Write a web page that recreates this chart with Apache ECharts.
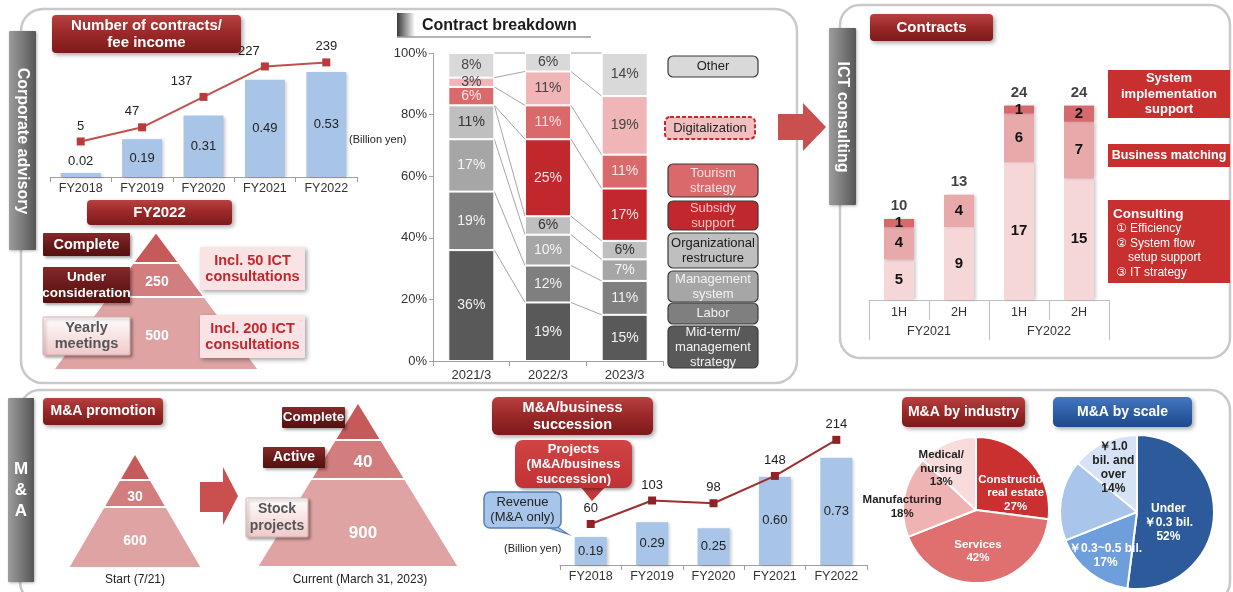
<!DOCTYPE html>
<html><head><meta charset="utf-8">
<script src="https://cdn.jsdelivr.net/npm/echarts@6/dist/echarts.min.js"></script>
<style>html,body{margin:0;padding:0;background:#fff}#c{width:1233px;height:592px}</style>
</head><body><div id="c"></div><script>
const FONT = '"Liberation Sans", Arial, "DejaVu Sans", sans-serif';

// ---------------- DATA ----------------
const feeYears = ['FY2018','FY2019','FY2020','FY2021','FY2022'];
const feeIncome = [0.02, 0.19, 0.31, 0.49, 0.53];
const feeContracts = [5, 47, 137, 227, 239];

const breakdownCats = ['2021/3','2022/3','2023/3'];
const bdMidterm = [36, 19, 15];
const bdLabor = [19, 12, 11];
const bdMgmt = [17, 10, 7];
const bdOrg = [11, 6, 6];
const bdSubsidy = [0, 25, 17];
const bdTourism = [6, 11, 11];
const bdDigital = [3, 11, 19];
const bdOther = [8, 6, 14];
const bdNames = ['Mid-term/management strategy','Labor','Management system','Organizational restructure','Subsidy support','Tourism strategy','Digitalization','Other'];

const ictHalves = ['1H','2H','1H','2H'];
const ictYears = ['FY2021','FY2022'];
const ictConsulting = [5, 9, 17, 15];
const ictMatching = [4, 4, 6, 7];
const ictSystem = [1, 0, 1, 2];

const maYears = ['FY2018','FY2019','FY2020','FY2021','FY2022'];
const maRevenue = [0.19, 0.29, 0.25, 0.60, 0.73];
const maProjects = [60, 103, 98, 148, 214];

const industryNames = ['Construction/\nreal estate','Services','Manufacturing','Medical/\nnursing'];
const industryShares = [27, 42, 18, 13];
const scaleNames = ['Under\n￥0.3 bil.','￥0.3~0.5 bil.','￥0.5~\n1.0 bil.','￥1.0\nbil. and\nover'];
const scaleShares = [52, 17, 17, 14];

const corpPyramidLabels = ['', '250', '500'];
const maStartLabels = ['', '30', '600'];
const maCurrentLabels = ['', '40', '900'];

// ---------------- STYLE HELPERS ----------------
function vgrad(a, b, c) {
  const stops = c ? [{offset:0,color:a},{offset:0.5,color:b},{offset:1,color:c}] : [{offset:0,color:a},{offset:1,color:b}];
  return {type:'linear', x:0, y:0, x2:0, y2:1, colorStops:stops};
}
function hgrad(a, b, c) {
  return {type:'linear', x:0, y:0, x2:1, y2:0, colorStops:[{offset:0,color:a},{offset:0.5,color:b},{offset:1,color:c}]};
}
const RED_T = () => vgrad('#b84040', '#9a2828', '#7c1a1a');
const MAROON = () => vgrad('#84292a', '#6a1a1a', '#561010');
const PINK_L = () => vgrad('#ffffff', '#f8e4e4', '#efc8c8');
const BLUE_T = () => vgrad('#4478c2', '#2e5ea6', '#1f4a8a');

function txt(x, y, text, font, color, align, extra) {
  const st = Object.assign({text:text, x:x, y:y, font:font, fill:color, textFill:color,
    textAlign:align||'center', align:align||'center', textVerticalAlign:'middle', verticalAlign:'middle'}, extra||{});
  return {type:'text', z:120, silent:true, style:st};
}
function box(x, y, w, h, text, o) {
  o = o || {};
  const els = [{type:'rect', z:o.z||100, silent:true, shape:{x:x, y:y, width:w, height:h, r:o.r!=null?o.r:4},
    style:{fill:o.fill, stroke:o.stroke||null, lineWidth:o.lw||0, lineDash:o.dash||null,
      shadowBlur:o.sb!=null?o.sb:4, shadowColor:'rgba(0,0,0,0.35)', shadowOffsetX:o.sb===0?0:2, shadowOffsetY:o.sb===0?0:2}}];
  if (text) els.push(txt(o.tx!=null?o.tx:x+w/2, y+h/2+(o.dy||0), text, o.font||('bold 14px '+FONT), o.color||'#fff', o.align||'center', {lineHeight:o.lh||16}));
  return els;
}
function pyramid(ax, ay, by, hw, divs, colors) {
  const ys = [ay].concat(divs).concat([by]);
  const els = [];
  for (let s = 0; s < ys.length - 1; s++) {
    const y0 = ys[s], y1 = ys[s+1];
    const w0 = hw*(y0-ay)/(by-ay), w1 = hw*(y1-ay)/(by-ay);
    const pts = s === 0 ? [[ax,y0],[ax+w1,y1],[ax-w1,y1]] : [[ax-w0,y0],[ax+w0,y0],[ax+w1,y1],[ax-w1,y1]];
    els.push({type:'polygon', z:5, silent:true, shape:{points:pts}, style:{fill:colors[s], stroke:'#fff', lineWidth:2}});
  }
  return els;
}
const PYR_COLORS = ['#c65a5b','#d27d7e','#dfa3a4'];

let G = [];
// panels
G.push({type:'rect', z:1, silent:true, shape:{x:21,y:9,width:776,height:374,r:22}, style:{fill:null, stroke:'#c9c9c9', lineWidth:2.5}});
G.push({type:'rect', z:1, silent:true, shape:{x:840,y:5,width:390,height:353,r:20}, style:{fill:null, stroke:'#c9c9c9', lineWidth:2.5}});
G.push({type:'rect', z:1, silent:true, shape:{x:20,y:390,width:1210,height:212,r:20}, style:{fill:null, stroke:'#c9c9c9', lineWidth:2.5}});
// tabs
function tab(x, y, w, h) {
  return {type:'rect', z:3, silent:true, shape:{x:x,y:y,width:w,height:h,r:1},
    style:{fill:hgrad('#9c9c9c','#7a7a7a','#565656'), shadowBlur:3, shadowColor:'rgba(0,0,0,0.3)', shadowOffsetX:1, shadowOffsetY:1}};
}
function rotText(cx, cy, text) {
  const t = txt(0, 0, text, 'bold 16px '+FONT, '#fff');
  t.x = cx; t.y = cy; t.rotation = -Math.PI/2;
  return t;
}
G.push(tab(9,31,27,219));
G.push(rotText(22.5,141,'Corporate advisory'));
G.push(tab(829,28,27,177));
G.push(rotText(842.5,117,'ICT consulting'));
G.push(tab(8,398,26,184));
G.push(txt(21,490,'M\n&\nA','bold 17px '+FONT,'#fff','center',{lineHeight:21}));
// arrows
G.push({type:'polygon', z:5, silent:true, shape:{points:[[778,114],[803,114],[803,103],[826,127],[803,151],[803,140],[778,140]]}, style:{fill:'#c9504f'}});
G.push({type:'polygon', z:5, silent:true, shape:{points:[[200,482],[223,482],[223,467],[238,496],[223,525],[223,512],[200,512]]}, style:{fill:'#c9504f'}});

// --- corporate advisory
G = G.concat(box(52,15,189,38,'Number of contracts/\nfee income',{fill:RED_T(),font:'bold 15px '+FONT,lh:17}));
G.push(txt(349,140,'(Billion yen)','11px '+FONT,'#222','left'));
G = G.concat(box(87,200,145,25,'FY2022',{fill:RED_T(),font:'bold 15px '+FONT}));
G = G.concat(pyramid(156,232,370,103,[263,297],PYR_COLORS));
G.push(txt(157,282,corpPyramidLabels[1],'bold 14px '+FONT,'#fff'));
G.push(txt(157,336,corpPyramidLabels[2],'bold 14px '+FONT,'#fff'));
G = G.concat(box(43,233,87,23,'Complete',{fill:MAROON(),r:1,sb:3,font:'bold 14.5px '+FONT}));
G = G.concat(box(43,267,87,36,'Under\nconsideration',{fill:MAROON(),r:1,sb:3,font:'bold 13.5px '+FONT}));
G = G.concat(box(43,317,87,38,'Yearly\nmeetings',{fill:PINK_L(),r:1,sb:3,color:'#555',stroke:'#d9b0b0',lw:1,font:'bold 14.5px '+FONT}));
G = G.concat(box(200,247,105,43,'Incl. 50 ICT\nconsultations',{fill:'#fae3e4',r:1,sb:4,color:'#c0282d',font:'bold 14.5px '+FONT}));
G = G.concat(box(200,315,105,43,'Incl. 200 ICT\nconsultations',{fill:'#fae3e4',r:1,sb:4,color:'#c0282d',font:'bold 14.5px '+FONT}));

// --- contract breakdown
G.push({type:'rect', z:5, silent:true, shape:{x:397,y:13,width:18,height:24}, style:{fill:hgrad('#3a3a3a','#9a9a9a','#ffffff')}});
G.push({type:'line', z:5, silent:true, shape:{x1:397,y1:37,x2:591,y2:37}, style:{stroke:'#9a9a9a', lineWidth:1.5}});
G.push(txt(422,26,'Contract breakdown','bold 16px '+FONT,'#1a1a1a','left'));
const legendBoxes = [
  [56,21,'Other','#d9d9d9','#222'],
  [117,22,'Digitalization','#f2bfc1','#222'],
  [164,33,'Tourism\nstrategy','#d9696b','#fde2e2'],
  [201,29,'Subsidy\nsupport','#c0282d','#f7c4c4'],
  [233,35,'Organizational\nrestructure','#bfbfbf','#1a1a1a'],
  [271,31,'Management\nsystem','#a6a6a6','#f2f2f2'],
  [303,21,'Labor','#7f7f7f','#f2f2f2'],
  [326,42,'Mid-term/\nmanagement\nstrategy','#595959','#f2f2f2']
];
legendBoxes.forEach(function(b, idx){
  const dig = idx === 1;
  G = G.concat(box(dig?665:668, b[0], 90, b[1], b[2], {fill:b[3], color:b[4], r:5, sb:0,
    stroke: dig ? '#d0262b' : '#3a3a3a', lw: dig ? 2 : 1.2, dash: dig ? [4,2] : null,
    font:'13px '+FONT, lh:15}));
});

// --- ICT
G = G.concat(box(870,14,123,27,'Contracts',{fill:RED_T(),font:'bold 15px '+FONT}));
G = G.concat(box(1108,70,122,48,'System\nimplementation\nsupport',{fill:'#c7302e',r:0,sb:0,font:'bold 13px '+FONT,lh:15.5}));
G = G.concat(box(1108,144,122,23,'Business matching',{fill:'#c7302e',r:0,sb:0,font:'bold 12.5px '+FONT}));
G = G.concat(box(1108,200,122,83,null,{fill:'#c7302e',r:0,sb:0}));
G.push(txt(1113,214,'Consulting','bold 13.5px '+FONT,'#fff','left'));
G.push(txt(1116,229,'① Efficiency','12px '+FONT,'#fff','left'));
G.push(txt(1116,244,'② System flow','12px '+FONT,'#fff','left'));
G.push(txt(1128,258,'setup support','12px '+FONT,'#fff','left'));
G.push(txt(1116,273,'③ IT strategy','12px '+FONT,'#fff','left'));

// --- M&A promotion
G = G.concat(box(43,398,120,27,'M&A promotion',{fill:RED_T()}));
G = G.concat(pyramid(135,453,568,67,[480,507],PYR_COLORS));
G.push(txt(135,497,maStartLabels[1],'bold 14px '+FONT,'#fff'));
G.push(txt(135,541,maStartLabels[2],'bold 14px '+FONT,'#fff'));
G = G.concat(pyramid(358,402,567,101,[440,479],PYR_COLORS));
G.push(txt(363,462,maCurrentLabels[1],'bold 17px '+FONT,'#fff'));
G.push(txt(363,533,maCurrentLabels[2],'bold 17px '+FONT,'#fff'));
G = G.concat(box(282,407,63,21,'Complete',{fill:MAROON(),r:1,sb:3,font:'bold 13.5px '+FONT}));
G = G.concat(box(263,447,62,21,'Active',{fill:MAROON(),r:1,sb:3}));
G = G.concat(box(246,498,62,39,'Stock\nprojects',{fill:PINK_L(),r:1,sb:3,color:'#555',stroke:'#d9b0b0',lw:1,lh:17}));
G.push(txt(135,580,'Start (7/21)','12px '+FONT,'#222'));
G.push(txt(360,580,'Current (March 31, 2023)','12px '+FONT,'#222'));

// --- M&A / business succession
G = G.concat(box(492,397,161,38,'M&A/business\nsuccession',{fill:RED_T(),r:6,font:'bold 14.5px '+FONT,lh:17}));
G.push({type:'polygon', z:99, silent:true, shape:{points:[[580,486],[606,486],[592,501]]}, style:{fill:'#c5383a'}});
G = G.concat(box(515,440,117,48,'Projects\n(M&A/business\nsuccession)',{fill:vgrad('#d04446','#c13234'),r:8,sb:3,font:'bold 13px '+FONT,lh:15}));
G.push({type:'polygon', z:99, silent:true, shape:{points:[[543,526],[556,526],[568,534]]}, style:{fill:'#a7c5ea', stroke:'#5a7fb0', lineWidth:1.2}});
G = G.concat(box(484,492,77,36,'Revenue\n(M&A only)',{fill:'#a7c5ea',stroke:'#5a7fb0',lw:1.5,r:6,sb:0,color:'#222',font:'13px '+FONT,lh:15}));
G.push(txt(504,549,'(Billion yen)','11px '+FONT,'#222','left'));

// --- pies
G = G.concat(box(902,397,123,30,'M&A by industry',{fill:RED_T(),r:5}));
G = G.concat(box(1053,397,139,30,'M&A by scale',{fill:BLUE_T(),r:5}));

// ---------------- SERIES ----------------
const bdSeriesData = [bdMidterm, bdLabor, bdMgmt, bdOrg, bdSubsidy, bdTourism, bdDigital, bdOther];
const bdColors = ['#595959','#7f7f7f','#a6a6a6','#bfbfbf','#c0282d','#d9696b','#efb5b7','#d9d9d9'];
const bdLabelColors = ['#f2f2f2','#f2f2f2','#f5f5f5','#333','#fbe5e5','#fbe5e5','#444','#444'];
const BD_BAR_W = 46;

const series = [];
// fee chart
series.push({type:'bar', xAxisIndex:0, yAxisIndex:0, barWidth:40,
  data: feeIncome.map(function(v){ return {value:v, label: v < 0.05 ? {position:'top'} : {}}; }),
  itemStyle:{color:'#a8c5e8', shadowBlur:3, shadowColor:'rgba(0,0,0,0.2)', shadowOffsetX:2, shadowOffsetY:1},
  label:{show:true, position:'inside', color:'#222', fontFamily:FONT, fontSize:13, formatter:function(p){return p.value.toFixed(2);}}});
const feeLabelShift = [0,-10,-22,-16,0];
series.push({type:'line', xAxisIndex:0, yAxisIndex:1, symbol:'rect', symbolSize:8,
  data: feeContracts.map(function(v,i){ return {value:v, label:{offset:[feeLabelShift[i],0]}}; }),
  lineStyle:{color:'#c0504d', width:2}, itemStyle:{color:'#b83c3c'},
  label:{show:true, position:'top', color:'#222', fontFamily:FONT, fontSize:13}});

// breakdown
bdSeriesData.forEach(function(arr, k){
  series.push({type:'bar', name:bdNames[k], xAxisIndex:1, yAxisIndex:2, stack:'bd', barWidth:BD_BAR_W, data:arr,
    itemStyle:{color:bdColors[k], borderColor:'#fff', borderWidth:1},
    label:{show:true, position:'inside', color:bdLabelColors[k], fontFamily:FONT, fontSize:14,
      formatter:function(p){ return p.value > 0 ? p.value + '%' : ''; }}});
});
const linkData = [];
for (let k = 0; k < bdSeriesData.length; k++) for (let i = 0; i < breakdownCats.length - 1; i++) linkData.push([i, k]);
series.push({type:'custom', xAxisIndex:1, yAxisIndex:2, data:linkData, silent:true, z:1,
  encode:{x:0, y:-1},
  renderItem:function(params, api){
    const i = api.value(0), k = api.value(1);
    const cum = function(c){ let s = 0; for (let j = 0; j <= k; j++) s += bdSeriesData[j][c]; return s; };
    const p1 = api.coord([i, cum(i)]), p2 = api.coord([i+1, cum(i+1)]);
    return {type:'line', shape:{x1:p1[0]+BD_BAR_W/2, y1:p1[1], x2:p2[0]-BD_BAR_W/2, y2:p2[1]},
      style:{stroke:'#a6a6a6', lineWidth:1}};
  }});

// ICT
const ictData = [ictConsulting, ictMatching, ictSystem];
const ictColors = ['#f6d7d8','#e8a9ab','#d5696c'];
ictData.forEach(function(arr, k){
  series.push({type:'bar', xAxisIndex:2, yAxisIndex:3, stack:'ict', barWidth:30, data:arr,
    itemStyle:{color:ictColors[k], shadowBlur:3, shadowColor:'rgba(0,0,0,0.2)', shadowOffsetX:2, shadowOffsetY:0},
    label:{show:true, position:'inside', color:'#111', fontFamily:FONT, fontSize:15, fontWeight:'bold',
      formatter:function(p){ return p.value > 0 ? p.value : ''; }}});
});
const ictTotals = ictHalves.map(function(_, i){ return ictConsulting[i] + ictMatching[i] + ictSystem[i]; });
series.push({type:'scatter', xAxisIndex:2, yAxisIndex:3, data:ictTotals, symbolSize:1, itemStyle:{color:'rgba(0,0,0,0)'},
  label:{show:true, position:'top', distance:5, color:'#111', fontFamily:FONT, fontSize:15, fontWeight:'bold'}});

// M&A succession
series.push({type:'bar', xAxisIndex:4, yAxisIndex:4, barWidth:32, data:maRevenue,
  itemStyle:{color:'#a8c5e8', shadowBlur:3, shadowColor:'rgba(0,0,0,0.2)', shadowOffsetX:2, shadowOffsetY:1},
  label:{show:true, position:'inside', color:'#222', fontFamily:FONT, fontSize:13, formatter:function(p){return p.value.toFixed(2);}}});
series.push({type:'line', xAxisIndex:4, yAxisIndex:5, symbol:'rect', symbolSize:8, data:maProjects,
  lineStyle:{color:'#9e2f30', width:2}, itemStyle:{color:'#8e2224'},
  label:{show:true, position:'top', color:'#222', fontFamily:FONT, fontSize:13}});

// pies
const indColors = ['#c9302f','#e06f70','#efb3b3','#f8dcdc'];
const indLabelColors = ['#fff','#fff','#222','#222'];
const indOffsets = [[10,9],[-3,2],[-35,4],[-19,-5]];
series.push({type:'pie', center:[976,510], radius:73, startAngle:90, clockwise:true, silent:true,
  itemStyle:{borderColor:'#fff', borderWidth:2},
  label:{show:true, position:'inside', fontFamily:FONT, fontSize:11.5, fontWeight:'bold', lineHeight:13.5, formatter:'{b}\n{c}%'},
  labelLine:{show:false},
  data: industryShares.map(function(v, i){ return {name:industryNames[i], value:v, itemStyle:{color:indColors[i]},
    label:{color:indLabelColors[i], offset:indOffsets[i]}}; })});
const scColors = ['#2c5a9b','#6e9edb','#a9c5ea','#d6e3f4'];
const scLabelColors = ['#fff','#fff','#222','#222'];
const scOffsets = [[-10,8],[-6,11],[-27,-18],[-6,-7]];
series.push({type:'pie', center:[1137,512], radius:77, startAngle:90, clockwise:true, silent:true,
  itemStyle:{borderColor:'#fff', borderWidth:2},
  label:{show:true, position:'inside', fontFamily:FONT, fontSize:12, fontWeight:'bold', lineHeight:14, formatter:'{b}\n{c}%'},
  labelLine:{show:false},
  data: scaleShares.map(function(v, i){ return {name:scaleNames[i], value:v, itemStyle:{color:scColors[i]},
    label:{color:scLabelColors[i], offset:scOffsets[i]}}; })});

// ---------------- AXES ----------------
const axLabel = {color:'#333', fontFamily:FONT, fontSize:12.5};
const catAxis = function(gi, data, extra){
  return Object.assign({type:'category', gridIndex:gi, data:data, position:'bottom',
    axisLine:{show:true, lineStyle:{color:'#a0a0a0', width:1}},
    axisTick:{show:true, length:5, lineStyle:{color:'#a0a0a0'}},
    axisLabel:Object.assign({margin:5}, axLabel), splitLine:{show:false}}, extra||{});
};
const hiddenVal = function(gi, min, max){ return {type:'value', gridIndex:gi, min:min, max:max, show:false, splitLine:{show:false}}; };

const option = {
  animation:false,
  backgroundColor:'#fff',
  textStyle:{fontFamily:FONT},
  grid:[
    {left:50, top:58, width:307, height:119, outerBoundsMode:'none', containLabel:false},
    {left:433, top:53, width:230, height:308, outerBoundsMode:'none', containLabel:false},
    {left:869, top:57, width:240, height:243, outerBoundsMode:'none', containLabel:false},
    {left:560, top:418, width:307, height:147, outerBoundsMode:'none', containLabel:false}
  ],
  xAxis:[
    catAxis(0, feeYears),
    catAxis(1, breakdownCats, {axisLabel:Object.assign({margin:8}, axLabel, {fontSize:13})}),
    catAxis(2, ictHalves, {axisLine:{show:true, lineStyle:{color:'#bfbfbf'}}, axisTick:{show:true, length:20, lineStyle:{color:'#bfbfbf'}}, axisLabel:Object.assign({margin:6}, axLabel)}),
    catAxis(2, ictYears, {position:'bottom', offset:0, axisLine:{show:false}, axisTick:{show:true, length:40, lineStyle:{color:'#bfbfbf'}}, axisLabel:Object.assign({margin:25}, axLabel)}),
    catAxis(3, maYears)
  ],
  yAxis:[
    hiddenVal(0, 0, 0.6),
    hiddenVal(0, -100, 252),
    {type:'value', gridIndex:1, min:0, max:100, interval:20, splitLine:{show:false},
      axisLine:{show:true, lineStyle:{color:'#a0a0a0'}}, axisTick:{show:true, length:4, lineStyle:{color:'#a0a0a0'}},
      axisLabel:Object.assign({margin:6, formatter:'{value}%'}, axLabel, {fontSize:13})},
    hiddenVal(2, 0, 30),
    hiddenVal(3, 0, 1.0),
    hiddenVal(3, -15, 254)
  ],
  series:series,
  graphic:{elements:G}
};
const chart = echarts.init(document.getElementById('c'), null, {renderer:'canvas'});
chart.setOption(option);
</script></body></html>
